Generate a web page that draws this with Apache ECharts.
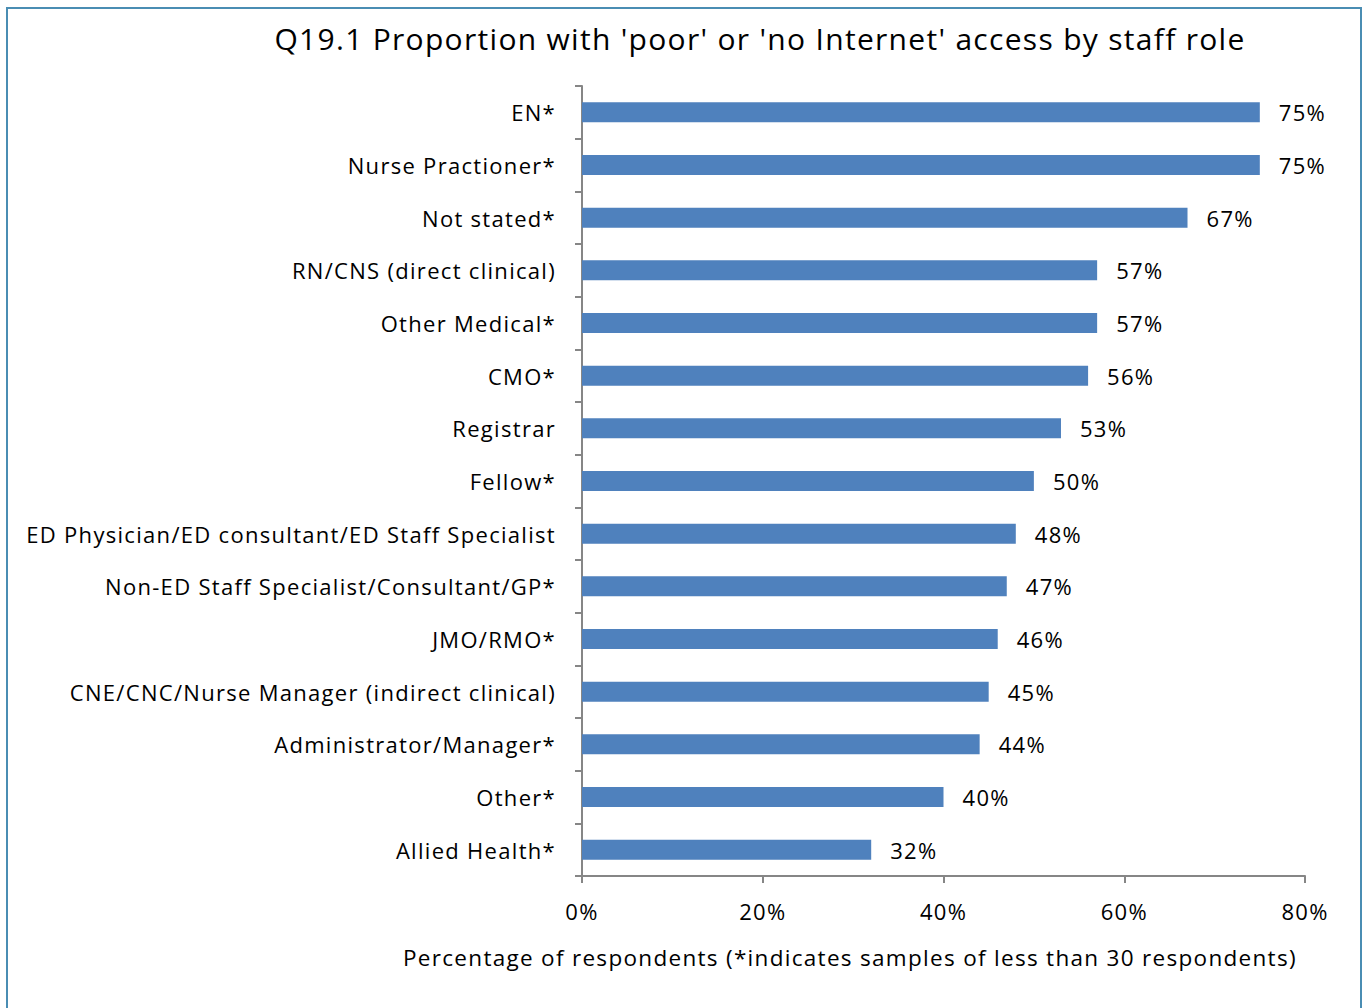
<!DOCTYPE html>
<html>
<head>
<meta charset="utf-8">
<script src="https://cdn.jsdelivr.net/npm/echarts@6/dist/echarts.min.js"></script>
<style>
  html, body { margin: 0; padding: 0; background: #fff; }
  #frame { position: absolute; left: 6px; top: 7px; width: 1356px; height: 1010px; border: 2px solid #4a8db3; box-sizing: border-box; }
  #chart { position: absolute; left: 0; top: 0; width: 1368px; height: 1008px; }
  /* loose tracking on all chart text */
  #chart svg text { letter-spacing: 1.3px; }
</style>
</head>
<body>
<div id="frame"></div>
<div id="chart"></div>
<script>
// Staff roles, listed top to bottom
const roles = [
  'EN*',
  'Nurse Practioner*',
  'Not stated*',
  'RN/CNS (direct clinical)',
  'Other Medical*',
  'CMO*',
  'Registrar',
  'Fellow*',
  'ED Physician/ED consultant/ED Staff Specialist',
  'Non-ED Staff Specialist/Consultant/GP*',
  'JMO/RMO*',
  'CNE/CNC/Nurse Manager (indirect clinical)',
  'Administrator/Manager*',
  'Other*',
  'Allied Health*'
];
// Percentage reporting 'poor' or 'no Internet' access
const poorAccessPct = [75, 75, 67, 57, 57, 56, 53, 50, 48, 47, 46, 45, 44, 40, 32];
const xTicks = [0, 20, 40, 60, 80];

const FONT = '"Open Sans", Lato, sans-serif';
const chart = echarts.init(document.getElementById('chart'), null, { renderer: 'svg' });

chart.setOption({
  backgroundColor: 'transparent',
  animation: false,
  title: {
    text: "Q19.1 Proportion with 'poor' or 'no Internet' access by staff role",
    left: 755,
    textAlign: 'center',
    top: 18,
    textStyle: { fontFamily: FONT, fontSize: 30, fontWeight: 'normal', color: '#000' }
  },
  grid: { left: 582, right: 63, top: 86, bottom: 132, containLabel: false },
  xAxis: {
    type: 'value',
    min: xTicks[0],
    max: xTicks[xTicks.length - 1],
    interval: 20,
    axisLine: { show: true, lineStyle: { color: '#868686', width: 2 } },
    axisTick: { show: true, length: 7, lineStyle: { color: '#868686', width: 2 } },
    splitLine: { show: false },
    axisLabel: {
      formatter: v => v + '%',
      fontFamily: FONT, fontSize: 22, color: '#000', margin: 24
    }
  },
  yAxis: {
    type: 'category',
    data: roles.slice().reverse(),
    axisLine: { show: true, lineStyle: { color: '#868686', width: 2 } },
    axisTick: { show: true, length: 7, lineStyle: { color: '#868686', width: 2 } },
    axisLabel: { fontFamily: FONT, fontSize: 22, color: '#000', margin: 26, padding: [0, 0, 3, 0] }
  },
  series: [{
    type: 'bar',
    data: poorAccessPct.slice().reverse(),
    barWidth: 20,
    itemStyle: { color: '#4f81bd' },
    label: {
      show: true,
      position: 'right',
      distance: 19,
      formatter: p => p.value + '%',
      fontFamily: FONT, fontSize: 22, color: '#000'
    }
  }],
  graphic: [{
    type: 'text',
    left: 403,
    top: 946,
    style: {
      text: 'Percentage of respondents (*indicates samples of less than 30 respondents)',
      font: '22.5px ' + FONT,
      fill: '#000'
    }
  }]
});
</script>
</body>
</html>
